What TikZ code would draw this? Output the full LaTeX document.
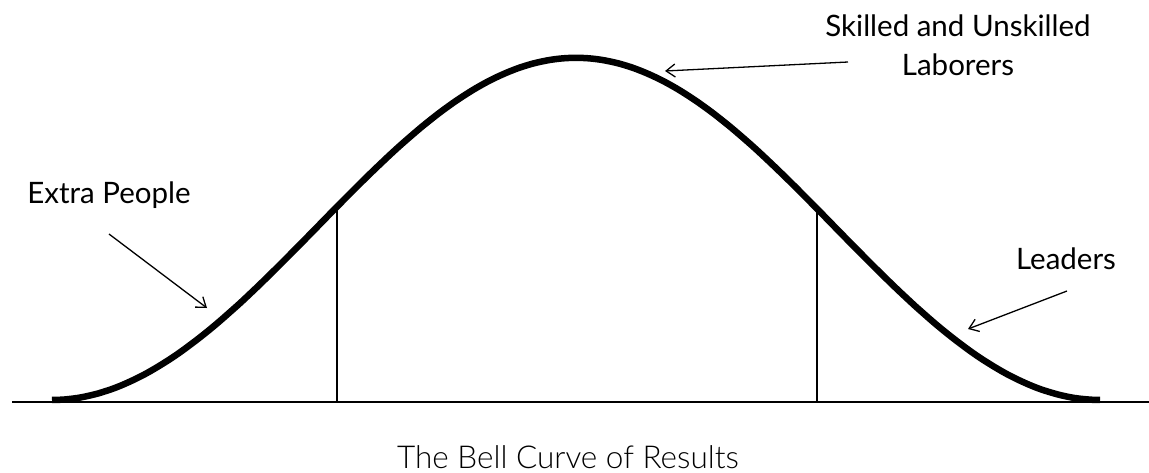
\documentclass[tikz,border=0pt]{standalone}
\usepackage{fontspec}
\setmainfont{Lato}
\newfontfamily\titlefont{Lato Light}
\usetikzlibrary{arrows.meta}

\begin{document}
\begin{tikzpicture}[x=1pt,y=-1pt,
    lbl/.style={inner sep=0pt,font=\fontsize{29.5}{39}\selectfont},
    pointer/.style={line width=1.3pt,-{Straight Barb[length=9pt,width=13pt]}}]
    \useasboundingbox (0,0) rectangle (1149,472);
    % axis
    \draw[line width=2.5pt] (12,402) -- (1149,402);
    % the bell
    \draw[line width=6.5pt,line cap=butt,domain=52:1100,samples=160,smooth,variable=\x]
        plot ({\x},{400-342*(exp(-((\x-576)/100)^2/21.78)-0.64081+0.013015*((\x-576)/100)^2)/0.35919});
    \draw[line width=2pt] (337,402) -- (337,209);
    \draw[line width=2pt] (817,402) -- (817,209);
    % labels
    \node[lbl,anchor=base] (extra) at (109,203) {Extra People};
    \node[lbl,align=center] (skilled) at (958,45) {Skilled and Unskilled\\Laborers};
    \node[lbl,anchor=base] (leaders) at (1066,269) {Leaders};
    \node[inner sep=0pt,anchor=base,font=\titlefont\fontsize{31.5}{36}\selectfont] (title) at (568,468) {The Bell Curve of Results};
    % pointers
    \coordinate (extra-from) at (109,234);
    \coordinate (extra-to) at (207,308);
    \coordinate (skilled-from) at (848,62);
    \coordinate (skilled-to) at (665,71);
    \coordinate (leaders-from) at (1067,291);
    \coordinate (leaders-to) at (968,329);
    \draw[pointer] (extra-from) -- (extra-to);
    \draw[pointer] (skilled-from) -- (skilled-to);
    \draw[pointer] (leaders-from) -- (leaders-to);
\end{tikzpicture}
\end{document}
